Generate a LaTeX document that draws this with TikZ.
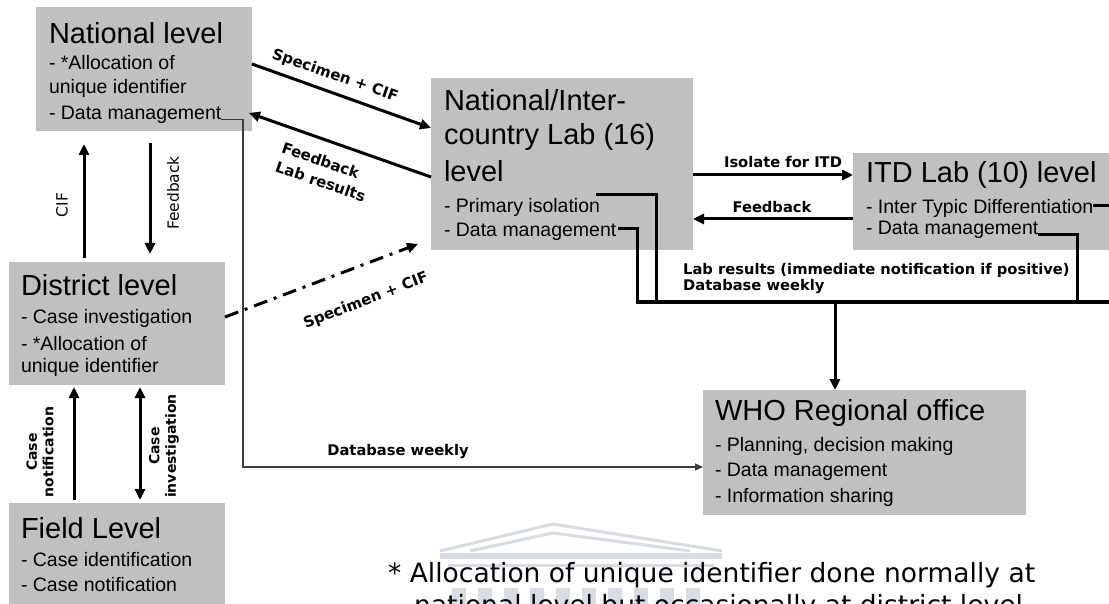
\documentclass[tikz,border=0pt]{standalone}
\usepackage{fontspec}
\setmainfont{Liberation Sans}
\newfontfamily\dvs{DejaVu Sans}
\usetikzlibrary{arrows.meta,calc}
\definecolor{boxgray}{RGB}{192,192,192}
\definecolor{thinline}{RGB}{60,60,60}
\definecolor{wmark}{RGB}{216,220,230}
\tikzset{
  box/.style={fill=boxgray, draw=none, inner sep=0, outer sep=0, anchor=north west},
  head/.style={font=\fontsize{29}{33}\selectfont, anchor=west, inner sep=0, outer sep=0},
  item/.style={font=\fontsize{19.5}{22}\selectfont, anchor=west, inner sep=0, outer sep=0},
  lbl/.style={font=\dvs\bfseries\fontsize{14.7}{17}\selectfont, inner sep=0},
  slbl/.style={font=\dvs\bfseries\fontsize{15}{20}\selectfont, inner sep=0},
  vlbl/.style={font=\dvs\fontsize{15.5}{18}\selectfont, inner sep=0, rotate=90},
  vblbl/.style={font=\dvs\bfseries\fontsize{14}{16.5}\selectfont, inner sep=0, rotate=90, align=center},
  bigarrow/.style={line width=3pt, -{Triangle[length=11pt,width=10pt]}},
  dblarrow/.style={line width=3pt, {Triangle[length=11pt,width=10pt]}-{Triangle[length=11pt,width=10pt]}},
  bus/.style={line width=3pt},
  thinarrow/.style={line width=1.3pt, draw=thinline, -{Triangle[length=8pt,width=7pt]}},
  dashdot/.style={line width=3pt, dash pattern=on 14pt off 7pt on 3pt off 7pt, -{Triangle[length=11pt,width=10pt]}},
  foot/.style={font=\dvs\fontsize{26.5}{32}\selectfont, anchor=base west, inner sep=0},
  wm/.style={draw=wmark, line width=3pt},
}
\begin{document}
\begin{tikzpicture}[x=1pt,y=-1pt]
\useasboundingbox (0,0) rectangle (1109,604);
\clip (0,0) rectangle (1109,604);
\fill[white] (0,0) rectangle (1109,604);

% faint watermark (building)
\draw[wm] (440,551) -- (553,524) -- (722,551);
\draw[wm] (470,551) -- (553,533) -- (690,551);
\fill[wmark] (440,553) rectangle (722,559);
\fill[wmark] (448,564) rectangle (714,567);
\foreach \cx in {452,478,504,530,556,582,608,634,660,686} {
  \fill[wmark] (\cx,588) rectangle ++(14,20);
}

% boxes
\node[box, minimum width=216, minimum height=124] (nat) at (36,7) {};
\node[box, minimum width=262, minimum height=172] (lab) at (431,78) {};
\node[box, minimum width=270, minimum height=97] (itd) at (853,153) {};
\node[box, minimum width=216, minimum height=123] (dist) at (9,262) {};
\node[box, minimum width=216, minimum height=115] (field) at (9,503) {};
\node[box, minimum width=323, minimum height=125] (who) at (703,390) {};

% National level
\node[head] (nath) at (49,33) {National level};
\node[item] (nat1) at (49,63) {- *Allocation of};
\node[item] (nat2) at (49,88) {unique identifier};
\node[item] (natdm) at (49,115) {- Data management};

% National/Inter-country lab
\node[head] (labh1) at (444,100) {National/Inter-};
\node[head] (labh2) at (444,137) {country Lab (16)};
\node[head] (labh3) at (444,171) {level};
\node[item] (labpi) at (444,207) {- Primary isolation};
\node[item] (labdm) at (444,232) {- Data management};

% ITD lab
\node[head] (itdh) at (866,175) {ITD Lab (10) level};
\node[item] (itdtd) at (866,208) {- Inter Typic Differentiation};
\node[item] (itddm) at (866,230) {- Data management};

% District
\node[head] (disth) at (21,285) {District level};
\node[item] (dist1) at (21,318) {- Case investigation};
\node[item] (dist2) at (21,344) {- *Allocation of};
\node[item] (dist3) at (21,367) {unique identifier};

% Field
\node[head] (fieldh) at (21,528) {Field Level};
\node[item] (field1) at (21,560) {- Case identification};
\node[item] (field2) at (21,585) {- Case notification};

% WHO
\node[head] (whoh) at (715,413) {WHO Regional office};
\node[item] (who1) at (715,446) {- Planning, decision making};
\node[item] (who2) at (715,472) {- Data management};
\node[item] (who3) at (715,497) {- Information sharing};

% National <-> lab
\draw[bigarrow] ($(nat.north east)+(0,57)$) -- ($(lab.north west)+(0,50)$);
\draw[bigarrow] ($(lab.north west)+(0,99)$) -- ($(nat.north east)+(-3,106)$);
\node[slbl, rotate=-19] (l1) at (335,76) {Specimen + CIF};
\node[slbl, rotate=-19, align=left] (l2) at (324,172) {Feedback\\Lab results};

% National <-> district
\draw[bigarrow] ($(dist.north west)+(75,-4)$) -- ($(nat.south west)+(48,13)$);
\draw[bigarrow] ($(nat.south west)+(114,12)$) -- ($(dist.north west)+(141,-8)$);
\node[vlbl] (lcif) at (62,205) {CIF};
\node[vlbl] (lfb) at (173,193) {Feedback};

% district -> lab (dash-dot)
\draw[dashdot] ($(dist.north east)+(0,55)$) -- ($(lab.north west)+(-13,166)$);
\node[slbl, rotate=21] (l3) at (366,301) {Specimen + CIF};

% database weekly thin line
\coordinate (dbcorner) at (243,467);
\draw[thinarrow] (natdm.base east) -| (dbcorner) -- (dbcorner -| who.west);
\node[lbl] (ldb) at (398,452) {Database weekly};

% field <-> district
\draw[bigarrow] ($(field.north west)+(65,-3)$) -- ($(dist.south west)+(65,2)$);
\draw[dblarrow] ($(dist.south west)+(131,2)$) -- ($(field.north west)+(131,-3)$);
\node[vblbl] (lcn) at (40,452) {Case\\notification};
\node[vblbl] (lci) at (164,446) {Case\\investigation};

% lab <-> ITD
\draw[bigarrow] ($(lab.north east)+(0,97)$) -- ($(itd.north west)+(0,22)$);
\node[lbl] (liso) at (783,162) {Isolate for ITD};
\draw[bigarrow] ($(itd.north west)+(0,66)$) -- ($(lab.north east)+(0,141)$);
\node[lbl] (lfb2) at (772,207) {Feedback};

% bus to WHO
\coordinate (busL) at (637,302);
\coordinate (busR) at (1115,302);
\coordinate (pibus) at (656,302);
\coordinate (itdbus) at (1077,302);
\coordinate (whoin) at (835,302);
\draw[bus] ([shift={(-4,-12)}]labpi.east) -| (pibus);
\draw[bus] ([shift={(2,-3)}]labdm.east) -| (busL) -- (busR);
\draw[bus] ([shift={(0,-2)}]itdtd.east) -- ([shift={(0,-2)}]itdtd.east -| busR);
\draw[bus] (itddm.base east) -| (itdbus);
\draw[bigarrow] (whoin) -- (whoin |- who.north);
\node[lbl, anchor=west] (lres1) at (683,270) {Lab results (immediate notification if positive)};
\node[lbl, anchor=west] (lres2) at (683,287) {Database weekly};

% footnote
\node[foot] (fn1) at (388,582) {* Allocation of unique identifier done normally at};
\node[foot] (fn2) at (414,614) {national level but occasionally at district level};
\end{tikzpicture}
\end{document}
